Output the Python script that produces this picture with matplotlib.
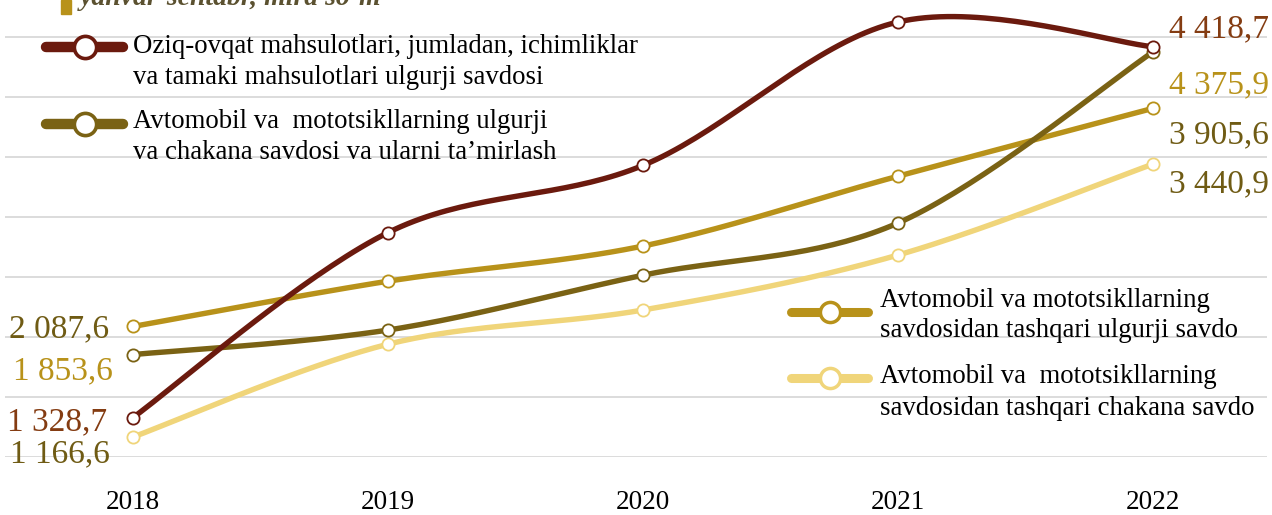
import numpy as np
import matplotlib
matplotlib.use("Agg")
import matplotlib.pyplot as plt
from matplotlib.lines import Line2D
from matplotlib.patches import Rectangle

# ---------------- data ----------------
years = ["2018", "2019", "2020", "2021", "2022"]
food_wholesale = [1328.7, 2870.0, 3430.0, 4625.0, 4418.7]
auto_trade_repair = [1853.6, 2058.0, 2515.0, 2950.0, 4375.9]
other_wholesale = [2087.6, 2465.0, 2758.0, 3340.0, 3905.6]
other_retail = [1166.6, 1940.0, 2225.0, 2683.0, 3440.9]

series_names = [
    ["Oziq-ovqat mahsulotlari, jumladan, ichimliklar",
     "va tamaki mahsulotlari ulgurji savdosi"],
    ["Avtomobil va  mototsikllarning ulgurji",
     "va chakana savdosi va ularni ta\u2019mirlash"],
    ["Avtomobil va mototsikllarning",
     "savdosidan tashqari ulgurji savdo"],
    ["Avtomobil va  mototsikllarning",
     "savdosidan tashqari chakana savdo"],
]
title_text = "yanvar-sentabr, mlrd so\u2018m"

def fmt(v):
    s = f"{v:,.1f}"
    return s.replace(",", " ").replace(".", ",")

# ---------------- style ----------------
W, H = 1272, 515
C_RED = "#6B1A0E"
C_OLIVE = "#7A6214"
C_GOLD = "#B8921A"
C_LIGHT = "#F0D57A"
series = [food_wholesale, auto_trade_repair, other_wholesale, other_retail]
colors = [C_RED, C_OLIVE, C_GOLD, C_LIGHT]
zorders = [5, 4, 3, 2]

SERIF = ["Liberation Serif", "DejaVu Serif"]

fig = plt.figure(figsize=(W / 100, H / 100), dpi=100)
fig.patch.set_facecolor("white")

def fx(x):
    return x / W

def fy(y):
    return 1 - y / H

ax = fig.add_axes([fx(5), fy(457), (1267 - 5) / W, 457 / H])
ax.set_xlim(-128 / 255, 1134 / 255)
ax.set_ylim(1000, 1000 + 457 * 500 / 60)
for sp in ax.spines.values():
    sp.set_visible(False)
ax.set_yticks(np.arange(1000, 4501, 500))
ax.set_yticklabels([])
ax.yaxis.grid(True, color="#D9D9D9", lw=1.3)
ax.set_axisbelow(True)
ax.tick_params(axis="y", length=0)
ax.set_xticks(range(len(years)))
ax.set_xticklabels(years, fontsize=19.5, family=SERIF, color="black")
ax.tick_params(axis="x", length=0, pad=24)


def smooth(xs, ys, n=40):
    """Excel-like Bezier smoothing through the given points."""
    P = np.column_stack([xs, ys]).astype(float)
    out = [P[0]]
    m = len(P)
    for i in range(m - 1):
        p0 = P[i - 1] if i > 0 else P[i]
        p1 = P[i]
        p2 = P[i + 1]
        p3 = P[i + 2] if i + 2 < m else P[i + 1]
        c1 = p1 + (p2 - p0) / 6
        c2 = p2 - (p3 - p1) / 6
        t = np.linspace(0, 1, n)[1:, None]
        seg = ((1 - t) ** 3) * p1 + 3 * ((1 - t) ** 2) * t * c1 + 3 * (1 - t) * t ** 2 * c2 + t ** 3 * p2
        out.extend(seg)
    out = np.array(out)
    return out[:, 0], out[:, 1]

xs = np.arange(len(years))
for vals, c, z in zip(series, colors, zorders):
    sx, sy = smooth(xs, vals)
    ax.plot(sx, sy, color=c, lw=3.9, solid_capstyle="round", zorder=z, clip_on=False)
    ax.plot(xs, vals, ls="none", marker="o", ms=8.8, mfc="white", mec=c, mew=1.3,
            zorder=z + 0.5, clip_on=False)

# ---------------- data labels ----------------
L_OLIVE = "#6F5B14"
L_RUST = "#843C12"
labels = [
    # (series, index, color, dx, dy(center, px up), ha)
    (other_wholesale, 0, L_OLIVE, -24, 0, "right"),
    (auto_trade_repair, 0, C_GOLD, -20, -14, "right"),
    (food_wholesale, 0, L_RUST, -26, -2, "right"),
    (other_retail, 0, L_OLIVE, -23, -14, "right"),
    (food_wholesale, 4, L_RUST, 16, 20, "left"),
    (auto_trade_repair, 4, C_GOLD, 16, -30, "left"),
    (other_wholesale, 4, L_OLIVE, 16, -24, "left"),
    (other_retail, 4, L_OLIVE, 16, -17, "left"),
]
for vals, i, c, dx, dy, ha in labels:
    ax.annotate(fmt(vals[i]), xy=(i, vals[i]), xytext=(dx, dy - 11),
                textcoords="offset pixels", ha=ha, va="baseline",
                fontsize=24, family=SERIF, color=c, annotation_clip=False)

# ---------------- legends (manual) ----------------
def handle(x0, x1, y, c, lw=7.5, ms=16, mew=2.6):
    fig.add_artist(Line2D([fx(x0), fx(x1)], [fy(y), fy(y)], color=c, lw=lw,
                          solid_capstyle="round"))
    fig.add_artist(Line2D([fx((x0 + x1) / 2)], [fy(y)], ls="none", marker="o",
                          ms=ms, mfc="white", mec=c, mew=mew))

handle(46, 123, 47, C_RED)
handle(46, 123, 124, C_OLIVE)
handle(791, 868, 312, C_GOLD, lw=6.5, ms=14.5, mew=2.5)
handle(791, 868, 378, C_LIGHT, lw=6.5, ms=14.5, mew=2.5)

leg_lines = [
    (133, 53, series_names[0][0]), (133, 84, series_names[0][1]),
    (133, 128, series_names[1][0]), (133, 159, series_names[1][1]),
    (880, 307, series_names[2][0]), (880, 337, series_names[2][1]),
    (880, 383, series_names[3][0]), (880, 415, series_names[3][1]),
]
for x, y, t in leg_lines:
    fig.text(fx(x), fy(y), t, ha="left", va="baseline", fontsize=19.3,
             family=SERIF, color="black")

# ---------------- title fragment ----------------
fig.add_artist(Rectangle((fx(61), fy(14)), 10 / W, 14 / H, color=C_GOLD,
                         transform=fig.transFigure))
fig.text(fx(80), fy(5), title_text, ha="left", va="baseline", fontsize=20,
         family=SERIF, style="italic", weight="bold", color="#5B5130")

fig.savefig("out.png", dpi=100, facecolor="white")
